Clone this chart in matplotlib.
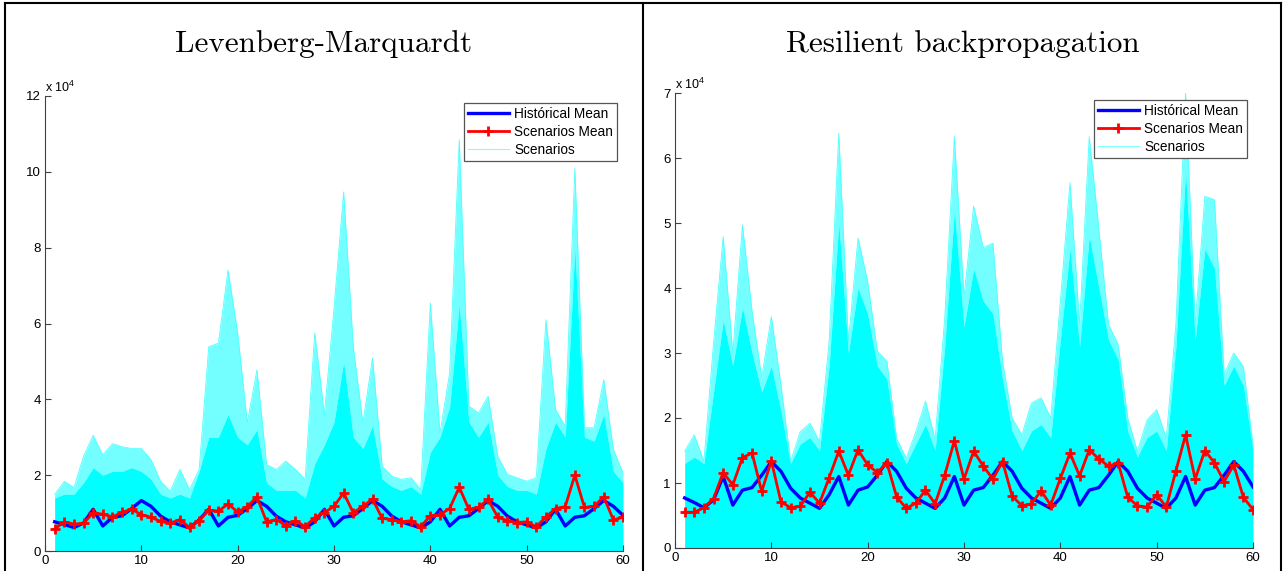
import numpy as np
import matplotlib
matplotlib.use("Agg")
from matplotlib import pyplot as plt
from matplotlib.lines import Line2D

plt.rcParams['font.family'] = ['Liberation Sans', 'DejaVu Sans']
plt.rcParams['mathtext.fontset'] = 'custom'
plt.rcParams['mathtext.rm'] = 'Liberation Sans'

# values in units of 10^4, months 1..60
months = np.arange(1, 61)

hist_mean = [0.77, 0.70, 0.62, 0.74, 1.10, 0.66, 0.89, 0.93, 1.12, 1.33, 1.18, 0.92,
             0.77, 0.69, 0.61, 0.82, 1.10, 0.66, 0.89, 0.94, 1.12, 1.33, 1.18, 0.92,
             0.77, 0.69, 0.61, 0.77, 1.10, 0.66, 0.89, 0.93, 1.12, 1.33, 1.18, 0.92,
             0.77, 0.69, 0.61, 0.77, 1.10, 0.66, 0.89, 0.93, 1.12, 1.33, 1.18, 0.92,
             0.77, 0.69, 0.61, 0.77, 1.10, 0.66, 0.89, 0.93, 1.12, 1.33, 1.18, 0.94]

lm_mean = [0.58, 0.77, 0.71, 0.73, 1.01, 0.97, 0.90, 1.02, 1.10, 0.96, 0.89, 0.78,
           0.73, 0.83, 0.62, 0.80, 1.08, 1.05, 1.24, 1.03, 1.17, 1.43, 0.77, 0.83,
           0.67, 0.80, 0.64, 0.88, 1.01, 1.18, 1.53, 1.01, 1.18, 1.37, 0.86, 0.83,
           0.77, 0.80, 0.64, 0.93, 0.96, 1.12, 1.68, 1.10, 1.15, 1.36, 0.89, 0.80,
           0.75, 0.77, 0.64, 0.90, 1.12, 1.17, 2.00, 1.15, 1.18, 1.43, 0.82, 0.89]

lm_scen_max = [1.49, 1.84, 1.67, 2.50, 3.05, 2.54, 2.83, 2.75, 2.70, 2.70, 2.41, 1.84,
               1.58, 2.15, 1.62, 2.15, 5.39, 5.48, 7.41, 5.75, 3.38, 4.78, 2.28, 2.15,
               2.37, 2.15, 1.89, 5.75, 3.60, 6.40, 9.47, 5.39, 3.38, 5.09, 2.24, 1.97,
               1.89, 1.93, 1.62, 6.54, 3.11, 4.69, 10.85, 3.82, 3.64, 4.08, 2.50, 2.02,
               1.93, 1.84, 1.93, 6.10, 3.73, 3.29, 10.09, 3.25, 3.25, 4.52, 2.68, 2.06]

lm_scen_dense = [1.4, 1.5, 1.5, 1.8, 2.2, 2.0, 2.1, 2.1, 2.2, 2.1, 1.9, 1.5,
                 1.4, 1.5, 1.4, 2.1, 3.0, 3.0, 3.6, 3.0, 2.8, 3.2, 1.8, 1.6,
                 1.6, 1.6, 1.4, 2.3, 2.8, 3.4, 5.0, 3.0, 2.7, 3.3, 1.9, 1.7,
                 1.6, 1.7, 1.5, 2.6, 3.0, 3.8, 6.5, 3.4, 3.0, 3.4, 2.0, 1.7,
                 1.6, 1.6, 1.5, 2.7, 3.4, 3.0, 8.0, 3.0, 2.9, 3.6, 2.1, 1.8]

rp_mean = [0.55, 0.55, 0.62, 0.76, 1.16, 0.97, 1.39, 1.46, 0.87, 1.34, 0.71, 0.62,
           0.64, 0.86, 0.69, 1.08, 1.49, 1.12, 1.51, 1.28, 1.16, 1.31, 0.79, 0.61,
           0.69, 0.89, 0.68, 1.12, 1.65, 1.06, 1.49, 1.26, 1.06, 1.33, 0.80, 0.65,
           0.68, 0.88, 0.66, 1.07, 1.46, 1.11, 1.51, 1.37, 1.26, 1.31, 0.78, 0.65,
           0.63, 0.82, 0.63, 1.19, 1.74, 1.06, 1.50, 1.31, 1.02, 1.28, 0.78, 0.59]

rp_scen_max = [1.49, 1.74, 1.33, 3.15, 4.79, 3.00, 4.97, 3.64, 2.62, 3.56, 2.51, 1.33,
               1.79, 1.92, 1.64, 3.18, 6.38, 3.18, 4.77, 4.10, 3.03, 2.87, 1.69, 1.38,
               1.79, 2.26, 1.67, 3.54, 6.33, 3.87, 5.26, 4.62, 4.69, 2.87, 2.00, 1.74,
               2.23, 2.31, 2.00, 3.79, 5.62, 3.44, 6.33, 4.90, 3.44, 3.13, 2.00, 1.49,
               1.97, 2.13, 1.69, 3.44, 7.00, 3.44, 5.41, 5.36, 2.67, 3.00, 2.79, 1.59]

rp_scen_dense = [1.3, 1.4, 1.3, 2.4, 3.5, 2.8, 3.7, 3.0, 2.4, 2.8, 2.1, 1.3,
                 1.6, 1.7, 1.5, 2.8, 5.0, 3.0, 4.0, 3.6, 2.8, 2.6, 1.6, 1.3,
                 1.6, 1.9, 1.5, 3.1, 5.2, 3.4, 4.3, 3.8, 3.6, 2.6, 1.8, 1.5,
                 1.8, 1.9, 1.7, 3.2, 4.6, 3.1, 4.8, 4.0, 3.2, 2.9, 1.8, 1.4,
                 1.7, 1.8, 1.5, 3.1, 5.8, 3.2, 4.6, 4.3, 2.5, 2.8, 2.5, 1.5]

panels = [
    ("Levenberg-Marquardt", lm_mean, lm_scen_dense, lm_scen_max, 12, [0, 2, 4, 6, 8, 10, 12]),
    ("Resilient backpropagation", rp_mean, rp_scen_dense, rp_scen_max, 7, [0, 1, 2, 3, 4, 5, 6, 7]),
]

W, H = 1284, 571
fig = plt.figure(figsize=(W / 100, H / 100), dpi=100)

# axes boxes in pixels: left, top(value max), right, bottom(0)
boxes = [(45, 96, 623, 551), (675, 93, 1253, 548)]
title_x = [324, 963]

for (title, sc_mean, dense, smax, ymax, yt), (l, t, r, b), tx in zip(panels, boxes, title_x):
    ax = fig.add_axes([l / W, (H - b) / H, (r - l) / W, (b - t) / H])
    ax.fill_between(months, 0, dense, color=(0, 1, 1), lw=0)
    ax.fill_between(months, dense, smax, color=(0, 1, 1), alpha=0.55, lw=0)
    ax.plot(months, smax, color=(0.3, 1, 1), lw=0.6)
    ax.plot(months, hist_mean, color=(0, 0, 1), lw=2.4)
    ax.plot(months, sc_mean, color=(1, 0, 0), lw=2.0, marker='+', ms=6.5, mew=2)

    ax.set_xlim(0, 60)
    ax.set_ylim(0, ymax)
    ax.set_xticks([0, 10, 20, 30, 40, 50, 60])
    ax.set_yticks(yt)
    ax.tick_params(direction='in', length=4, width=0.8, color='#404040', labelsize=9.5, pad=3)
    for s in ['top', 'right']:
        ax.spines[s].set_visible(False)
    for s in ['left', 'bottom']:
        ax.spines[s].set_color('#404040')
        ax.spines[s].set_linewidth(0.8)
    ax.patch.set_visible(False)

    ax.text(0.0, 1.003, r'x 10$^{4}$', transform=ax.transAxes, fontsize=9, va='bottom', ha='left')

    handles = [Line2D([], [], color=(0, 0, 1), lw=2.4),
               Line2D([], [], color=(1, 0, 0), lw=2.0, marker='+', ms=6.5, mew=2),
               Line2D([], [], color=(0.5, 1, 1), lw=0.8)]
    leg = ax.legend(handles, ['Histórical Mean', 'Scenarios Mean', 'Scenarios'],
                    loc='upper right', bbox_to_anchor=(1 - 6 / (r - l), 1 - 7 / (b - t)),
                    borderaxespad=0, fontsize=9.8, numpoints=1, handlelength=3.0,
                    handletextpad=0.4, labelspacing=0.28, borderpad=0.3,
                    fancybox=False, framealpha=1, edgecolor='#555555')
    leg.get_frame().set_linewidth(0.9)

    fig.text(tx / W, 1 - 52 / H, title, fontfamily='cmr10', fontsize=22.4,
             ha='center', va='baseline')

# panel frame lines
for x in [5, 643, 1281]:
    fig.add_artist(Line2D([x / W, x / W], [0, 1 - 3 / H], color='black', lw=1.5))
fig.add_artist(Line2D([5 / W, 1281 / W], [1 - 3 / H, 1 - 3 / H], color='black', lw=1.5))

fig.savefig("out.png", dpi=100)
